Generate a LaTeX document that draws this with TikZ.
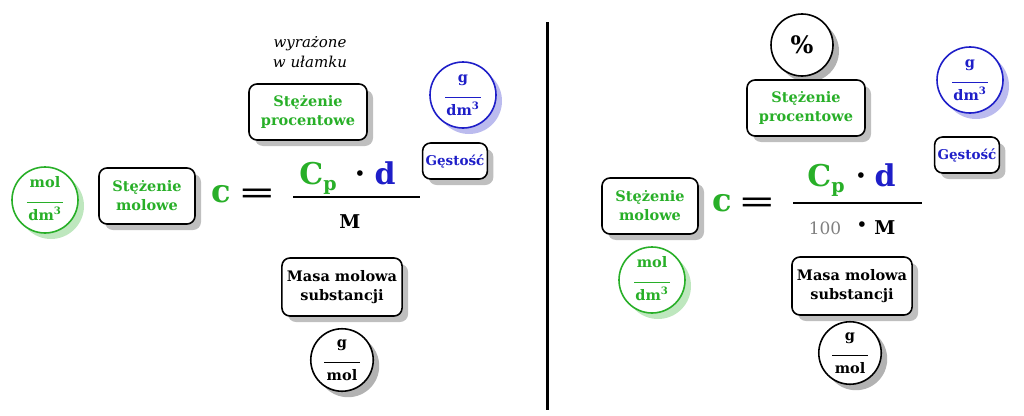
\documentclass[tikz,border=0pt]{standalone}
\usepackage{fontspec}
\setmainfont{DejaVu Serif}
\usetikzlibrary{shadows}
\definecolor{cgreen}{RGB}{40,175,40}
\definecolor{cblue}{RGB}{30,30,200}
\tikzset{
  namebox/.style={draw, line width=1.6pt, rounded corners=8pt, fill=white, align=center,
    font=\bfseries\fontsize{14.5}{19}\selectfont, inner sep=5pt,
    drop shadow={shadow xshift=6pt, shadow yshift=-6pt, fill=black!25, opacity=1}},
  unit/.style={draw=#1, line width=1.6pt, circle, fill=white, minimum size=64pt, inner sep=0pt,
    text=#1, font=\bfseries\fontsize{14.5}{18}\selectfont,
    drop shadow={shadow xshift=6pt, shadow yshift=-6pt, fill=#1!30, opacity=1}},
  big/.style={font=\bfseries\fontsize{32}{32}\selectfont},
  mid/.style={font=\bfseries\fontsize{30}{30}\selectfont},
}
\newcommand{\frc}[2]{\begin{tabular}{@{}c@{}}#1\\[-2pt]\rule{36pt}{1.2pt}\\[-1pt]#2\end{tabular}}
\newcommand{\cpsym}{C\raisebox{-6pt}{\fontsize{19}{19}\selectfont p}}
\newcommand{\mdot}{\raisebox{1pt}{\fontsize{16}{16}\selectfont •}}
\newcommand{\eqsym}{\scalebox{1.4}[1]{\mdseries =}}
\begin{document}
\begin{tikzpicture}[x=1pt, y=-1pt]
  \useasboundingbox (0,0) rectangle (1024,415);
  \draw[line width=3pt] (547,22) -- (547,410);

  % left part
  \node[unit=cgreen, minimum size=66pt] (lunit) at (45,200) {\frc{mol}{dm\textsuperscript{3}}};
  \node[namebox, text=cgreen, minimum width=96pt, minimum height=56pt] (lmol) at (147,196) {Stężenie\\molowe};
  \node[big, text=cgreen] (lc) at (221,194) {c};
  \node[big] (leq) at (257,196) {\eqsym};
  \node[mid, text=cgreen] (lcp) at (318,178) {\cpsym};
  \node[mid] (ldot) at (360,176) {\mdot};
  \node[mid, text=cblue] (ld) at (385,173) {d};
  \coordinate (lfa) at (293,197);
  \coordinate (lfb) at (420,197);
  \draw[line width=1.3pt] (lfa) -- (lfb);
  \node[font=\bfseries\fontsize{19}{19}\selectfont] (lm) at (350,222) {M};
  \node[font=\itshape\fontsize{15}{20}\selectfont, align=center] (lnote) at (310,52) {wyrażone\\w ułamku};
  \node[namebox, text=cgreen, minimum width=118pt, minimum height=56pt] (lproc) at (308,112) {Stężenie\\procentowe};
  \node[unit=cblue, minimum size=66pt] (lden) at (463,95) {\frc{g}{dm\textsuperscript{3}}};
  \node[namebox, text=cblue, minimum width=62pt, minimum height=36pt, inner sep=3pt, font=\bfseries\fontsize{13.5}{16}\selectfont] (lgest) at (455,161) {Gęstość};
  \node[namebox, minimum width=118pt, minimum height=58pt] (lmasa) at (342,287) {Masa molowa\\substancji};
  \node[unit=black, minimum size=60pt] (lgmol) at (342,360) {\frc{g}{mol}};

  % right part
  \node[unit=black, minimum size=62pt, font=\bfseries\fontsize{24}{24}\selectfont] (rpct) at (802,45) {\%};
  \node[namebox, text=cgreen, minimum width=118pt, minimum height=56pt] (rproc) at (806,108) {Stężenie\\procentowe};
  \node[unit=cblue, minimum size=66pt] (rden) at (970,80) {\frc{g}{dm\textsuperscript{3}}};
  \node[namebox, text=cblue, minimum width=62pt, minimum height=36pt, inner sep=3pt, font=\bfseries\fontsize{13.5}{16}\selectfont] (rgest) at (967,155) {Gęstość};
  \node[namebox, text=cgreen, minimum width=96pt, minimum height=56pt] (rmol) at (650,206) {Stężenie\\molowe};
  \node[unit=cgreen, minimum size=66pt] (runit) at (652,280) {\frc{mol}{dm\textsuperscript{3}}};
  \node[big, text=cgreen] (rc) at (722,203) {c};
  \node[big] (req) at (757,205) {\eqsym};
  \node[mid, text=cgreen] (rcp) at (826,180) {\cpsym};
  \node[mid] (rdot) at (861,178) {\mdot};
  \node[mid, text=cblue] (rd) at (885,175) {d};
  \coordinate (rfa) at (793,203);
  \coordinate (rfb) at (922,203);
  \draw[line width=1.3pt] (rfa) -- (rfb);
  \node[font=\fontsize{17}{17}\selectfont, text=black!50] (r100) at (825,228) {100};
  \node[font=\bfseries\fontsize{16}{16}\selectfont] (rdot2) at (862,227) {\mdot};
  \node[font=\bfseries\fontsize{19}{19}\selectfont] (rm) at (885,228) {M};
  \node[namebox, minimum width=118pt, minimum height=58pt] (rmasa) at (852,286) {Masa molowa\\substancji};
  \node[unit=black, minimum size=60pt] (rgmol) at (850,353) {\frc{g}{mol}};
\end{tikzpicture}
\end{document}
